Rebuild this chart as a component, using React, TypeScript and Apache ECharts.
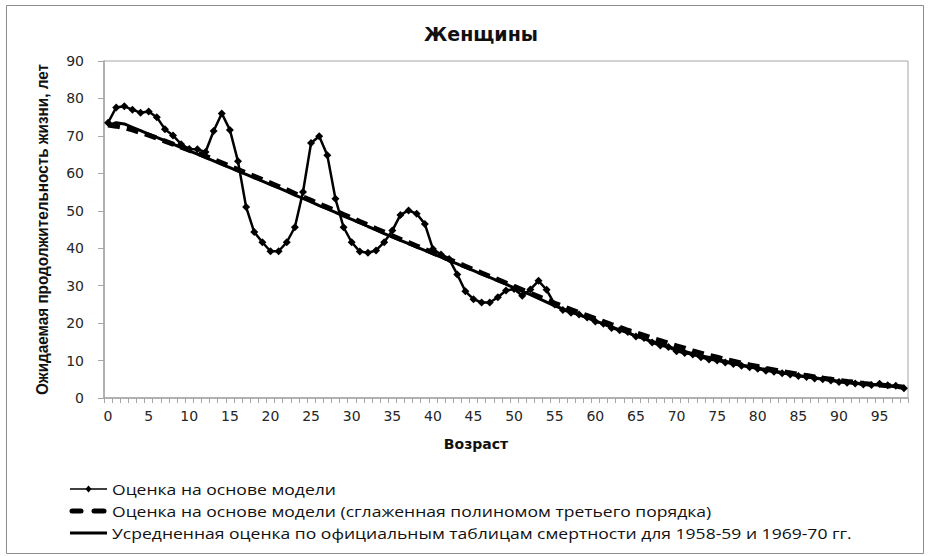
import React, { useEffect, useRef } from "react";
import * as echarts from "echarts";

const ages: number[] = [
  0, 1, 2, 3, 4, 5, 6, 7, 8, 9, 10, 11, 12, 13, 14, 15, 16, 17, 18, 19,
  20, 21, 22, 23, 24, 25, 26, 27, 28, 29, 30, 31, 32, 33, 34, 35, 36, 37, 38, 39,
  40, 41, 42, 43, 44, 45, 46, 47, 48, 49, 50, 51, 52, 53, 54, 55, 56, 57, 58, 59,
  60, 61, 62, 63, 64, 65, 66, 67, 68, 69, 70, 71, 72, 73, 74, 75, 76, 77, 78, 79,
  80, 81, 82, 83, 84, 85, 86, 87, 88, 89, 90, 91, 92, 93, 94, 95, 96, 97, 98,
];

const modelEstimate: number[] = [
  73.5, 77.6, 77.9, 77.0, 76.2, 76.5, 75.0, 71.8, 70.1, 67.8,
  66.5, 66.4, 65.7, 71.3, 76.0, 71.6, 63.2, 51.0, 44.3, 41.6,
  39.2, 39.2, 41.6, 45.6, 55.0, 68.1, 69.9, 64.8, 53.2, 45.6,
  41.6, 39.1, 38.8, 39.4, 41.6, 44.7, 48.9, 50.1, 49.2, 46.5,
  39.8, 38.3, 37.1, 33.0, 28.5, 26.4, 25.5, 25.5, 26.9, 28.7,
  29.1, 27.3, 29.0, 31.3, 28.9, 25.0, 23.5, 22.8, 22.3, 21.5,
  20.4, 19.8, 18.7, 18.1, 17.6, 16.4, 16.0, 14.8, 14.0, 13.6,
  12.5, 12.0, 11.6, 10.9, 10.3, 10.0, 9.5, 9.1, 8.6, 8.2,
  7.8, 7.3, 7.0, 6.6, 6.3, 5.9, 5.6, 5.2, 5.0, 4.7,
  4.3, 4.1, 3.9, 3.6, 3.5, 3.8, 3.4, 3.3, 2.6,
];

const smoothedEstimate: number[] = [
  72.9, 72.6, 72.2, 71.6, 70.9, 70.2, 69.4, 68.6, 67.8, 67.0,
  66.2, 65.4, 64.6, 63.7, 62.8, 61.9, 61.0, 60.1, 59.2, 58.3,
  57.4, 56.5, 55.6, 54.6, 53.7, 52.8, 51.8, 50.9, 50.0, 49.0,
  48.1, 47.1, 46.2, 45.2, 44.3, 43.3, 42.4, 41.5, 40.6, 39.7,
  38.8, 37.9, 37.0, 36.1, 35.2, 34.3, 33.4, 32.5, 31.6, 30.7,
  29.8, 28.9, 28.0, 27.1, 26.2, 25.3, 24.5, 23.6, 22.8, 22.0,
  21.2, 20.4, 19.6, 18.9, 18.1, 17.4, 16.7, 16.0, 15.3, 14.6,
  13.9, 13.3, 12.6, 12.0, 11.4, 10.9, 10.3, 9.8, 9.3, 8.8,
  8.4, 7.9, 7.5, 7.1, 6.7, 6.3, 6.0, 5.6, 5.3, 5.0,
  4.7, 4.4, 4.2, 3.9, 3.7, 3.5, 3.3, 3.1, 2.9,
];

const officialAverage: number[] = [
  72.8, 73.5, 73.2, 72.3, 71.4, 70.5, 69.6, 68.7, 67.8, 66.9,
  66.0, 65.1, 64.2, 63.3, 62.4, 61.5, 60.6, 59.7, 58.8, 57.9,
  57.0, 56.1, 55.2, 54.2, 53.3, 52.4, 51.4, 50.5, 49.6, 48.6,
  47.7, 46.8, 45.8, 44.9, 43.9, 43.0, 42.1, 41.2, 40.3, 39.4,
  38.5, 37.6, 36.7, 35.8, 34.9, 34.0, 33.1, 32.2, 31.3, 30.4,
  29.4, 28.5, 27.6, 26.6, 25.6, 24.6, 23.8, 23.0, 22.2, 21.4,
  20.6, 19.8, 19.0, 18.2, 17.4, 16.6, 15.8, 15.1, 14.4, 13.7,
  13.0, 12.4, 11.8, 11.3, 10.8, 10.3, 9.8, 9.3, 8.8, 8.4,
  8.0, 7.6, 7.2, 6.8, 6.4, 6.0, 5.7, 5.4, 5.1, 4.8,
  4.5, 4.2, 4.0, 3.8, 3.6, 3.4, 3.2, 3.0, 2.7,
];

const seriesNames: string[] = [
  "Оценка на основе модели",
  "Оценка на основе модели (сглаженная полиномом третьего порядка)",
  "Усредненная оценка по официальным таблицам смертности для 1958-59 и 1969-70 гг.",
];

const titleText = "Женщины";
const xAxisTitle = "Возраст";
const yAxisTitle = "Ожидаемая продолжительность жизни, лет";

const App: React.FC = () => {
  const ref = useRef<HTMLDivElement>(null);

  useEffect(() => {
    if (!ref.current) return;
    const chart = echarts.init(ref.current, undefined, { renderer: "svg" });
    const axisGray = "#a6a6a6";
    const labelFont = "DejaVu Sans";
    const ink = "#111111";
    const legendX1 = 70;
    const legendX2 = 107;
    const legendTextX = 112;
    const rowY = [489, 511, 533];
    const legendText = (i: number) => ({
      type: "text",
      x: legendTextX,
      y: rowY[i],
      scaleX: 1.17,
      silent: true,
      style: {
        text: seriesNames[i],
        x: 0,
        y: 0,
        fontFamily: "Open Sans",
        fontSize: 15,
        fill: ink,
        align: "left",
        verticalAlign: "middle",
      },
    });
    const cx = (legendX1 + legendX2) / 2;
    chart.setOption({
      animation: false,
      backgroundColor: "#ffffff",
      title: {
        text: titleText,
        left: 476,
        textAlign: "center",
        top: 19,
        textStyle: {
          fontFamily: "DejaVu Sans",
          fontWeight: "bold",
          fontSize: 19,
          color: ink,
        },
      },
      graphic: [
        {
          type: "rect",
          shape: { x: 6.5, y: 5.5, width: 917, height: 548 },
          style: { fill: "none", stroke: "#8c8c8c", lineWidth: 1 },
          silent: true,
        },
        {
          type: "text",
          x: 42,
          y: 229.5,
          rotation: Math.PI / 2,
          scaleX: 0.9,
          silent: true,
          style: {
            text: yAxisTitle,
            x: 0,
            y: 0,
            fontFamily: "Liberation Sans",
            fontWeight: "bold",
            fontSize: 17,
            fill: ink,
            align: "center",
            verticalAlign: "middle",
          },
        },
        {
          type: "text",
          x: 476,
          y: 444,
          silent: true,
          style: {
            text: xAxisTitle,
            x: 0,
            y: 0,
            fontFamily: "DejaVu Sans",
            fontWeight: "bold",
            fontSize: 14,
            fill: ink,
            align: "center",
            verticalAlign: "middle",
          },
        },
        {
          type: "line",
          silent: true,
          shape: { x1: legendX1, y1: rowY[0], x2: legendX2, y2: rowY[0] },
          style: { stroke: "#000", lineWidth: 1.5 },
        },
        {
          type: "polygon",
          silent: true,
          shape: {
            points: [
              [cx, rowY[0] - 3.5],
              [cx + 3, rowY[0]],
              [cx, rowY[0] + 3.5],
              [cx - 3, rowY[0]],
            ],
          },
          style: { fill: "#000" },
        },
        legendText(0),
        {
          type: "line",
          silent: true,
          shape: { x1: 72, y1: rowY[1], x2: 81, y2: rowY[1] },
          style: { stroke: "#000", lineWidth: 5, lineCap: "round" },
        },
        {
          type: "line",
          silent: true,
          shape: { x1: 94, y1: rowY[1], x2: 104, y2: rowY[1] },
          style: { stroke: "#000", lineWidth: 5, lineCap: "round" },
        },
        legendText(1),
        {
          type: "line",
          silent: true,
          shape: { x1: legendX1, y1: rowY[2], x2: legendX2, y2: rowY[2] },
          style: { stroke: "#000", lineWidth: 3 },
        },
        legendText(2),
      ],
      grid: {
        left: 104,
        top: 61,
        right: 20,
        bottom: 158,
        show: true,
        borderColor: axisGray,
        borderWidth: 1,
      },
      xAxis: {
        type: "category",
        data: ages,
        boundaryGap: true,
        axisLine: { lineStyle: { color: axisGray, width: 1.5 } },
        axisTick: {
          show: true,
          interval: 0,
          length: 5,
          lineStyle: { color: axisGray },
        },
        axisLabel: {
          interval: 4,
          margin: 11,
          fontFamily: labelFont,
          fontSize: 14,
          color: "#262626",
        },
        splitLine: { show: false },
      },
      yAxis: {
        type: "value",
        min: 0,
        max: 90,
        interval: 10,
        axisLine: { show: true, lineStyle: { color: axisGray, width: 1.5 } },
        axisTick: { show: true, length: 6, lineStyle: { color: axisGray } },
        axisLabel: {
          margin: 20,
          fontFamily: labelFont,
          fontSize: 14,
          color: "#262626",
        },
        splitLine: { show: false },
      },
      series: [
        {
          name: seriesNames[2],
          type: "line",
          data: officialAverage,
          showSymbol: false,
          symbol: "none",
          lineStyle: { color: "#000000", width: 3 },
          itemStyle: { color: "#000000" },
          z: 2,
        },
        {
          name: seriesNames[1],
          type: "line",
          data: smoothedEstimate,
          showSymbol: false,
          symbol: "none",
          lineStyle: { color: "#000000", width: 5, type: [12, 7] },
          itemStyle: { color: "#000000" },
          z: 3,
        },
        {
          name: seriesNames[0],
          type: "line",
          data: modelEstimate,
          symbol: "diamond",
          symbolSize: 8,
          showAllSymbol: true,
          lineStyle: { color: "#000000", width: 2.5 },
          itemStyle: { color: "#000000" },
          z: 4,
        },
      ],
    });
    return () => {
      chart.dispose();
    };
  }, []);

  return (
    <div
      ref={ref}
      style={{ position: "fixed", left: 0, top: 0, width: 928, height: 556 }}
    />
  );
};

export default App;
